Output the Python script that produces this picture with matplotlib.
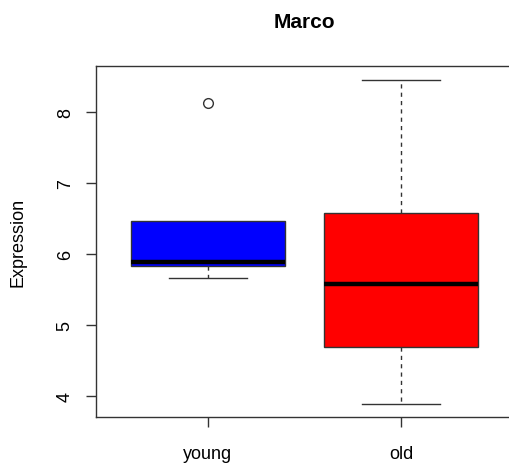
import matplotlib
matplotlib.use("Agg")
from matplotlib import pyplot as plt

plt.rcParams['font.family'] = ['Liberation Sans', 'DejaVu Sans']

# data
groups = ["young", "old"]
q1 = [5.825, 4.69]
med = [5.877, 5.58]
q3 = [6.456, 6.58]
whislo = [5.66, 3.88]
whishi = [6.456, 8.45]
outliers = [[8.13], []]
box_colors = ["#0000ff", "#ff0000"]

stats = []
for i in range(len(groups)):
    stats.append({"label": groups[i], "q1": q1[i], "med": med[i], "q3": q3[i],
                  "whislo": whislo[i], "whishi": whishi[i], "fliers": outliers[i]})

fig = plt.figure(figsize=(5.1, 4.64), dpi=100)
ax = fig.add_axes([96/510, 46/464, 417/510, 351/464])

bp = ax.bxp(stats, positions=[1, 2], widths=0.8, patch_artist=True,
            boxprops=dict(edgecolor="#333333", linewidth=1),
            medianprops=dict(color="black", linewidth=3.2, solid_capstyle="butt"),
            whiskerprops=dict(color="#333333", linestyle=(0, (3, 3)), linewidth=1),
            capprops=dict(color="#333333", linewidth=1),
            capwidths=0.4,
            flierprops=dict(marker="o", markerfacecolor="none", markeredgecolor="#333333",
                            markersize=7, markeredgewidth=1))
for patch, c in zip(bp["boxes"], box_colors):
    patch.set_facecolor(c)
# young has no upper whisker, hide its cap on the box edge
bp["caps"][1].set_visible(False)

ax.set_xlim(0.42, 2.58)
ax.set_ylim(3.70, 8.645)
ax.set_yticks([4, 5, 6, 7, 8])
ax.set_xticks([1, 2])
ax.set_xticklabels(groups)
for lbl in ax.get_yticklabels():
    lbl.set_rotation(90)
    lbl.set_va("center")
ax.tick_params(axis="both", length=7, width=1, color="#333333", labelsize=13, pad=9)
ax.tick_params(axis="x", pad=13)
for s in ax.spines.values():
    s.set_color("#333333")
    s.set_linewidth(1)

ax.set_ylabel("Expression", fontsize=13, labelpad=22)
fig.text(304/510, 1 - 22/464, "Marco", ha="center", va="center", fontsize=15, fontweight="bold")

fig.savefig("out.png", dpi=100)
